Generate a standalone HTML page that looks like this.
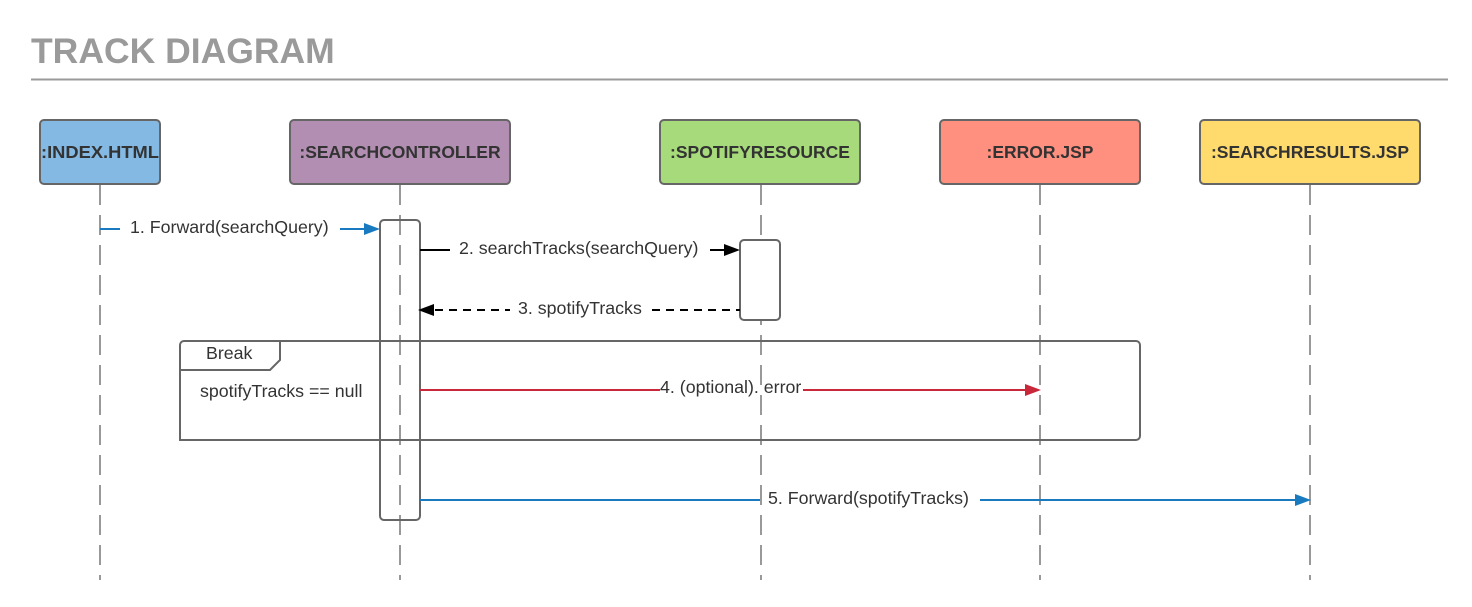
<!DOCTYPE html>
<html><head><style>body{margin:0;background:#fff}svg{display:block}text{font-family:"Liberation Sans",sans-serif}</style></head><body>
<svg width="1472" height="607" viewBox="0 0 1472 607" xmlns="http://www.w3.org/2000/svg">
<text x="31" y="63" font-size="35.5" font-weight="bold" fill="#9a9a9a">TRACK DIAGRAM</text>
<line x1="31" y1="79.5" x2="1448" y2="79.5" stroke="#9a9a9a" stroke-width="2"/>
<g stroke="#999" stroke-width="2" stroke-dasharray="20,10">
<line x1="100" y1="185" x2="100" y2="580"/>
<line x1="400" y1="185" x2="400" y2="580"/>
<line x1="761" y1="185" x2="761" y2="580"/>
<line x1="1040" y1="185" x2="1040" y2="580"/>
<line x1="1310" y1="185" x2="1310" y2="580"/>
</g>
<g stroke="#666" stroke-width="2">
<rect x="40" y="120" width="120" height="64" rx="4" fill="#83b9e3"/>
<rect x="290" y="120" width="220" height="64" rx="4" fill="#b28fb2"/>
<rect x="660" y="120" width="200" height="64" rx="4" fill="#a6da7a"/>
<rect x="940" y="120" width="200" height="64" rx="4" fill="#ff8f7f"/>
<rect x="1200" y="120" width="220" height="64" rx="4" fill="#ffdb6e"/>
</g>
<g font-size="17.5" font-weight="bold" fill="#333" text-anchor="middle">
<text x="100" y="158" textLength="118" lengthAdjust="spacingAndGlyphs">:INDEX.HTML</text>
<text x="400" y="158">:SEARCHCONTROLLER</text>
<text x="760" y="158">:SPOTIFYRESOURCE</text>
<text x="1040" y="158">:ERROR.JSP</text>
<text x="1310" y="158">:SEARCHRESULTS.JSP</text>
</g>
<path d="M180,440 V345 a4,4 0 0 1 4,-4 H1136 a4,4 0 0 1 4,4 V436 a4,4 0 0 1 -4,4 Z" fill="none" stroke="#666" stroke-width="2"/>
<path d="M180,370 H270 L280,360 V341" fill="none" stroke="#666" stroke-width="2"/>
<rect x="380" y="220" width="40" height="300" rx="4" fill="none" stroke="#666" stroke-width="2"/>
<rect x="740" y="240" width="40" height="80" rx="4" fill="#fff" stroke="#666" stroke-width="2"/>
<g font-size="17.8" fill="#333">
<text x="206" y="359">Break</text>
<text x="200" y="397">spotifyTracks == null</text>
<text x="130" y="233">1. Forward(searchQuery)</text>
<text x="459" y="254">2. searchTracks(searchQuery)</text>
<text x="518" y="314">3. spotifyTracks</text>
<text x="660" y="393">4. (optional). error</text>
<text x="768" y="504">5. Forward(spotifyTracks)</text>
</g>
<line x1="100" y1="229" x2="120" y2="229" stroke="#1a7ac0" stroke-width="2"/>
<line x1="340" y1="229" x2="365" y2="229" stroke="#1a7ac0" stroke-width="2"/>
<polygon points="380,229 364,223 364,235" fill="#1a7ac0"/>
<line x1="420" y1="250" x2="450" y2="250" stroke="#000" stroke-width="2"/>
<line x1="710" y1="250" x2="725" y2="250" stroke="#000" stroke-width="2"/>
<polygon points="740,250 724,244 724,256" fill="#000"/>
<line x1="435" y1="310" x2="510" y2="310" stroke="#000" stroke-width="2" stroke-dasharray="8,6"/>
<line x1="652" y1="310" x2="740" y2="310" stroke="#000" stroke-width="2" stroke-dasharray="8,6"/>
<polygon points="418,310 434,304 434,316" fill="#000"/>
<line x1="420" y1="390" x2="660" y2="390" stroke="#c8283a" stroke-width="2"/>
<line x1="803" y1="390" x2="1026" y2="390" stroke="#c8283a" stroke-width="2"/>
<polygon points="1041,390 1025,384 1025,396" fill="#c8283a"/>
<line x1="420" y1="500" x2="760" y2="500" stroke="#1a7ac0" stroke-width="2"/>
<line x1="980" y1="500" x2="1295" y2="500" stroke="#1a7ac0" stroke-width="2"/>
<polygon points="1311,500 1295,494 1295,506" fill="#1a7ac0"/>
</svg>
</body></html>
